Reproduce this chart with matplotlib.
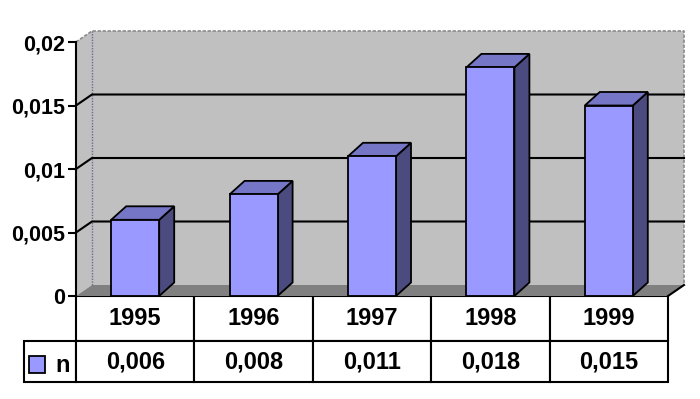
import numpy as np
import matplotlib
matplotlib.use("Agg")
from matplotlib import pyplot as plt
from matplotlib.patches import Polygon, Patch
from matplotlib.ticker import FuncFormatter

years = ["1995", "1996", "1997", "1998", "1999"]
values = [0.006, 0.008, 0.011, 0.018, 0.015]
series_name = "n"
y_ticks = [0, 0.005, 0.01, 0.015, 0.02]

FRONT = "#9999FF"
TOP = "#7676C6"
SIDE = "#4B4B7F"
WALL = "#C0C0C0"
FLOOR = "#808080"
FONT = 15.5
TABLE_FONT = 17

plt.rcParams["font.family"] = ["Liberation Sans", "DejaVu Sans"]
plt.rcParams["font.weight"] = "bold"

fig = plt.figure(figsize=(7, 3.99), dpi=100)
# front plane of the 3d box: x 76..668 px, y 42..296 px
ax = fig.add_axes([76 / 700, (399 - 296) / 399, 592 / 700, 254 / 399])
n = len(years)
ax.set_xlim(-0.5, n - 0.5)
ax.set_ylim(0, 0.02)

# depth offsets in data units (px / px-per-unit)
px_x = n / 592
px_y = 0.02 / 254
dxw, dyw = 16 * px_x, 11 * px_y
dxb, dyb = 15 * px_x, 13.5 * px_y

x0, x1 = -0.5, n - 0.5
ytop = y_ticks[-1]

# walls and floor
ax.add_patch(Polygon([(x0 + dxw, dyw), (x1 + dxw, dyw), (x1 + dxw, ytop + dyw), (x0 + dxw, ytop + dyw)],
                     closed=True, fc=WALL, ec="none", clip_on=False, zorder=1))
ax.add_patch(Polygon([(x0, 0), (x0 + dxw, dyw), (x0 + dxw, ytop + dyw), (x0, ytop)],
                     closed=True, fc=WALL, ec="none", clip_on=False, zorder=1))
ax.add_patch(Polygon([(x0, 0), (x1, 0), (x1 + dxw, dyw), (x0 + dxw, dyw)],
                     closed=True, fc=FLOOR, ec="none", clip_on=False, zorder=1))

# wall edges
ax.plot([x0, x0 + dxw, x1 + dxw, x1 + dxw], [ytop, ytop + dyw, ytop + dyw, dyw],
        c="#8a8a8a", lw=1.2, ls=(0, (2, 1)), clip_on=False, zorder=2)
ax.plot([x0 + dxw, x0 + dxw], [dyw, ytop + dyw], c="#6a6a9a", lw=1.0, ls=(0, (1, 1)),
        clip_on=False, zorder=2)
ax.plot([x1, x1 + dxw], [0, dyw], c="black", lw=1.5, clip_on=False, zorder=2)

# gridlines on side and back wall
for v in y_ticks[1:-1]:
    ax.plot([x0, x0 + dxw, x1 + dxw], [v, v + dyw, v + dyw], c="black", lw=1.5,
            clip_on=False, zorder=2)

# bars
w = 48 * px_x
xs = np.arange(n)
for x, v in zip(xs, values):
    ax.add_patch(Polygon([(x + w / 2, 0), (x + w / 2 + dxb, dyb), (x + w / 2 + dxb, v + dyb), (x + w / 2, v)],
                         closed=True, fc=SIDE, ec="black", lw=1.3, clip_on=False, zorder=3))
    ax.add_patch(Polygon([(x - w / 2, v), (x + w / 2, v), (x + w / 2 + dxb, v + dyb), (x - w / 2 + dxb, v + dyb)],
                         closed=True, fc=TOP, ec="black", lw=1.3, clip_on=False, zorder=3))
ax.bar(xs, values, width=w, color=FRONT, edgecolor="black", linewidth=1.3, zorder=4)

# axes styling
for s in ["top", "right", "bottom"]:
    ax.spines[s].set_visible(False)
ax.spines["left"].set_linewidth(1.5)
ax.spines["left"].set_zorder(5)
ax.set_xticks([])
ax.set_yticks(y_ticks)
ax.yaxis.set_major_formatter(FuncFormatter(lambda v, p: f"{v:g}".replace(".", ",")))
ax.tick_params(axis="y", length=6, width=1.5, pad=2, labelsize=FONT)

# data table below the plot
tab = ax.table(cellText=[[f"{v:g}".replace(".", ",") for v in values]],
               rowLabels=[""], colLabels=years, cellLoc="center",
               bbox=[0, -86 / 254, 1, 86 / 254])
tab.auto_set_font_size(False)
tab.set_fontsize(TABLE_FONT)
tab._autoColumns = []
for (r, c), cell in tab.get_celld().items():
    cell.set_linewidth(1.5)
    cell.set_clip_on(False)
    cell.set_height(45 / 254 if r == 0 else 41 / 254)
    if c == -1:
        cell.set_width(52 / 592)
    cell.get_text().set_fontweight("bold")

ax.legend(handles=[Patch(fc=FRONT, ec="black", lw=1.3, label=series_name)],
          loc="center left", bbox_to_anchor=(-47 / 592, -70 / 254), borderaxespad=0,
          borderpad=0, frameon=False, fontsize=TABLE_FONT, handlelength=0.68, handleheight=0.72,
          handletextpad=0.45)

fig.savefig("out.png", dpi=100)
